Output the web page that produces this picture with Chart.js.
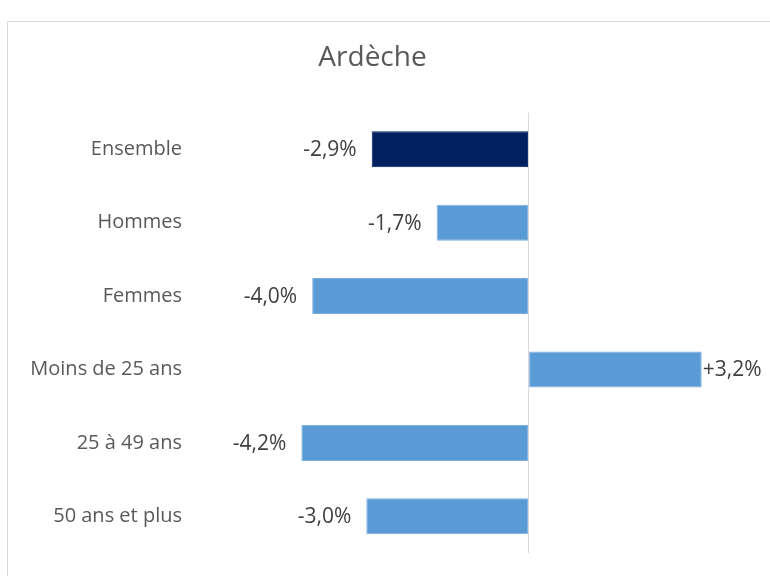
<!DOCTYPE html>
<html lang="fr">
<head>
<meta charset="utf-8">
<script src="https://cdn.jsdelivr.net/npm/chart.js@4/dist/chart.umd.min.js"></script>
<style>
  html, body { margin: 0; padding: 0; background: #fff; overflow: hidden; }
  #wrap { width: 770px; height: 576px; }
</style>
</head>
<body>
<div id="wrap"><canvas id="chart" width="770" height="576"></canvas></div>
<script>
const categories = ["Ensemble", "Hommes", "Femmes", "Moins de 25 ans", "25 à 49 ans", "50 ans et plus"];
const evolution = [-2.9, -1.7, -4.0, 3.2, -4.2, -3.0];
const barColors = ["#002060", "#5b9bd5", "#5b9bd5", "#5b9bd5", "#5b9bd5", "#5b9bd5"];

function formatPct(v) {
  const s = Math.abs(v).toFixed(1).replace(".", ",") + "%";
  return (v > 0 ? "+" : "-") + s;
}

// cadre gris autour du graphique
const frame = {
  id: "frame",
  beforeDraw(chart) {
    const ctx = chart.ctx;
    ctx.save();
    ctx.strokeStyle = "#d9d9d9";
    ctx.lineWidth = 1;
    ctx.strokeRect(7.5, 21.5, 820, 620);
    ctx.restore();
  },
};

// étiquettes de valeur en bout de barre
const valueLabels = {
  id: "valueLabels",
  afterDatasetsDraw(chart) {
    const ctx = chart.ctx;
    const meta = chart.getDatasetMeta(0);
    ctx.save();
    ctx.font = "21px 'Open Sans'";
    ctx.fillStyle = "#404040";
    ctx.textBaseline = "middle";
    meta.data.forEach((bar, i) => {
      const v = evolution[i];
      if (v < 0) {
        ctx.textAlign = "right";
        ctx.fillText(formatPct(v), bar.x - 15, bar.y + 1);
      } else {
        ctx.textAlign = "left";
        ctx.fillText(formatPct(v), bar.x + 1, bar.y + 1);
      }
    });
    ctx.restore();
  },
};

new Chart(document.getElementById("chart"), {
  type: "bar",
  data: {
    labels: categories,
    datasets: [
      {
        data: evolution,
        backgroundColor: barColors,
        borderColor: barColors.map((c) => (c === "#5b9bd5" ? "#7eaee0" : c)),
        borderWidth: 1,
        borderSkipped: false,
        categoryPercentage: 1,
        barPercentage: 0.49,
      },
    ],
  },
  options: {
    indexAxis: "y",
    responsive: false,
    animation: false,
    layout: { padding: { left: 0, right: 25, top: 0, bottom: 23 } },
    scales: {
      x: {
        min: -6,
        max: 4,
        ticks: { display: false, stepSize: 1 },
        border: { display: false },
        grid: {
          drawTicks: false,
          color: (c) => (c.tick && c.tick.value === 0 ? "#d9d9d9" : "rgba(0,0,0,0)"),
          lineWidth: 1,
        },
      },
      y: {
        grid: { display: false },
        border: { display: false },
        ticks: {
          padding: 14,
          color: "#595959",
          font: { family: "'Open Sans'", size: 20 },
        },
        afterFit(scale) {
          scale.width = 204;
          scale.paddingTop = 0;
          scale.paddingBottom = 0;
        },
      },
    },
    plugins: {
      legend: { display: false },
      tooltip: { enabled: false },
      title: {
        display: true,
        text: "Ardèche",
        color: "#595959",
        font: { family: "'Open Sans'", size: 28, weight: "normal" },
        padding: { top: 41, bottom: 38 },
      },
    },
  },
  plugins: [frame, valueLabels],
});
</script>
</body>
</html>
